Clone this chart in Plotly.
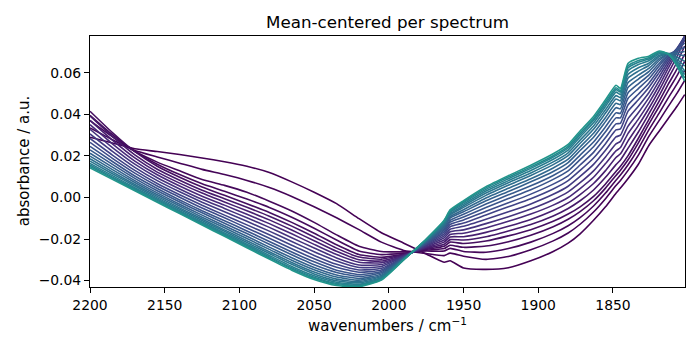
import plotly.graph_objects as go
from plotly.colors import sample_colorscale

# wavenumber grid (cm-1), read at points along the x axis
wavenumbers = [2200, 2185, 2170, 2155, 2140, 2125, 2110, 2095, 2080, 2065, 2050, 2035, 2020, 2005,
               1990, 1975, 1963, 1959, 1950, 1935, 1920, 1905, 1890, 1880, 1872, 1863, 1855, 1848,
               1845, 1840, 1833, 1826, 1819, 1813, 1807, 1802]

# acquisition index of each drawn spectrum (sets its colour)
spectrum_index = [0, 1, 2, 3, 4, 7, 9, 12, 15, 18, 21, 24, 27, 29, 32, 35, 38, 41, 44, 46, 49, 54]

s00 = [.0290, .0262, .0234, .0221, .0207, .0190, .0172, .0150, .0120, .0075, .0025, -.0030, -.0102, -.0170,
       -.0220, -.0272, -.0312, -.0305, -.0340, -.0346, -.0338, -.0305, -.0260, -.0220, -.0175, -.0110, -.0045, .0020,
       .0045, .0090, .0160, .0250, .0320, .0380, .0440, .0495]
s01 = [.0335, .0278, .0226, .0195, .0165, .0135, .0110, .0082, .0048, .0005, -.0045, -.0098, -.0155, -.0215,
       -.0255, -.0270, -.0280, -.0268, -.0283, -.0298, -.0284, -.0252, -.0209, -.0171, -.0129, -.0070, -.0006, .0057,
       .0082, .0129, .0204, .0294, .0371, .0438, .0503, .0563]
s02 = [.0370, .0292, .0222, .0170, .0128, .0086, .0058, .0025, -.0018, -.0065, -.0120, -.0180, -.0235, -.0260,
       -.0262, -.0258, -.0258, -.0245, -.0260, -.0264, -.0246, -.0215, -.0173, -.0136, -.0097, -.0041, .0021, .0083,
       .0108, .0156, .0235, .0325, .0407, .0479, .0548, .0612]
s03 = [.0395, .0302, .0222, .0160, .0110, .0066, .0030, -.0008, -.0048, -.0095, -.0148, -.0205, -.0258, -.0275,
       -.0268, -.0254, -.0246, -.0230, -.0240, -.0234, -.0213, -.0182, -.0141, -.0105, -.0068, -.0016, .0045, .0106,
       .0131, .0180, .0263, .0353, .0439, .0515, .0588, .0655]
s04 = [.0415, .0312, .0220, .0150, .0097, .0050, .0010, -.0030, -.0072, -.0120, -.0172, -.0228, -.0275, -.0288,
       -.0273, -.0250, -.0235, -.0215, -.0222, -.0210, -.0185, -.0155, -.0115, -.0080, -.0045, .0005, .0065, .0125,
       .0150, .0200, .0285, .0375, .0465, .0545, .0620, .0690]
s07 = [.0393, .0294, .0205, .0136, .0083, .0035, -.0006, -.0047, -.0090, -.0138, -.0190, -.0244, -.0287, -.0297,
       -.0275, -.0246, -.0225, -.0203, -.0205, -.0189, -.0161, -.0130, -.0089, -.0053, -.0016, .0036, .0097, .0158,
       .0180, .0236, .0315, .0402, .0491, .0574, .0653, .0729]
s09 = [.0371, .0276, .0190, .0122, .0069, .0021, -.0022, -.0064, -.0108, -.0157, -.0208, -.0259, -.0300, -.0306,
       -.0277, -.0242, -.0215, -.0190, -.0189, -.0168, -.0139, -.0106, -.0063, -.0026, .0014, .0067, .0129, .0192,
       .0210, .0271, .0347, .0428, .0517, .0599, .0680, .0759]
s12 = [.0350, .0258, .0175, .0109, .0055, .0006, -.0037, -.0081, -.0126, -.0175, -.0226, -.0275, -.0312, -.0314,
       -.0280, -.0238, -.0205, -.0178, -.0172, -.0147, -.0115, -.0080, -.0037, .0000, .0043, .0097, .0163, .0224,
       .0240, .0307, .0377, .0454, .0540, .0622, .0700, .0775]
s15 = [.0328, .0240, .0160, .0095, .0041, -.0009, -.0053, -.0098, -.0144, -.0194, -.0243, -.0291, -.0325, -.0323,
       -.0282, -.0234, -.0195, -.0165, -.0156, -.0126, -.0093, -.0056, -.0011, .0027, .0071, .0128, .0195, .0258,
       .0270, .0342, .0408, .0479, .0562, .0639, .0711, .0777]
s18 = [.0306, .0222, .0145, .0081, .0027, -.0023, -.0069, -.0115, -.0162, -.0212, -.0261, -.0306, -.0337, -.0332,
       -.0284, -.0230, -.0185, -.0153, -.0139, -.0105, -.0069, -.0031, .0015, .0054, .0101, .0159, .0227, .0291,
       .0300, .0378, .0439, .0504, .0583, .0653, .0717, .0776]
s21 = [.0284, .0204, .0130, .0067, .0013, -.0038, -.0085, -.0132, -.0180, -.0230, -.0279, -.0322, -.0349, -.0341,
       -.0286, -.0226, -.0175, -.0141, -.0123, -.0084, -.0045, -.0006, .0041, .0081, .0130, .0190, .0259, .0325,
       .0330, .0414, .0470, .0529, .0602, .0665, .0719, .0772]
s24 = [.0265, .0188, .0117, .0055, .0001, -.0051, -.0098, -.0147, -.0196, -.0247, -.0295, -.0336, -.0360, -.0349,
       -.0288, -.0223, -.0166, -.0130, -.0108, -.0066, -.0026, .0016, .0064, .0104, .0156, .0217, .0288, .0354,
       .0357, .0445, .0497, .0550, .0618, .0674, .0717, .0760]
s27 = [.0246, .0173, .0103, .0043, -.0012, -.0064, -.0112, -.0161, -.0212, -.0263, -.0310, -.0350, -.0371, -.0356,
       -.0290, -.0219, -.0158, -.0119, -.0094, -.0048, -.0005, .0037, .0087, .0128, .0182, .0244, .0316, .0383,
       .0383, .0476, .0524, .0571, .0634, .0681, .0713, .0743]
s29 = [.0229, .0159, .0092, .0032, -.0022, -.0074, -.0124, -.0174, -.0225, -.0276, -.0324, -.0361, -.0380, -.0363,
       -.0291, -.0216, -.0150, -.0110, -.0081, -.0032, .0013, .0056, .0106, .0148, .0204, .0267, .0340, .0407,
       .0405, .0503, .0547, .0589, .0646, .0686, .0706, .0724]
s32 = [.0213, .0146, .0081, .0022, -.0033, -.0085, -.0136, -.0187, -.0239, -.0290, -.0337, -.0373, -.0390, -.0369,
       -.0293, -.0213, -.0143, -.0100, -.0069, -.0016, .0029, .0075, .0125, .0168, .0226, .0290, .0365, .0432,
       .0427, .0529, .0570, .0606, .0659, .0690, .0697, .0702]
s35 = [.0199, .0134, .0072, .0013, -.0041, -.0095, -.0146, -.0198, -.0250, -.0302, -.0348, -.0383, -.0398, -.0375,
       -.0294, -.0211, -.0136, -.0093, -.0059, -.0003, .0044, .0090, .0142, .0184, .0243, .0309, .0385, .0453,
       .0447, .0552, .0589, .0621, .0668, .0692, .0689, .0681]
s38 = [.0186, .0123, .0062, .0005, -.0050, -.0104, -.0156, -.0208, -.0261, -.0313, -.0359, -.0393, -.0405, -.0380,
       -.0296, -.0208, -.0130, -.0085, -.0048, .0010, .0059, .0106, .0158, .0201, .0261, .0328, .0406, .0474,
       .0465, .0574, .0608, .0635, .0678, .0693, .0676, .0655]
s41 = [.0175, .0114, .0055, -.0002, -.0057, -.0111, -.0163, -.0217, -.0270, -.0322, -.0368, -.0401, -.0411, -.0385,
       -.0297, -.0206, -.0125, -.0079, -.0040, .0021, .0071, .0118, .0171, .0215, .0276, .0344, .0422, .0490,
       .0480, .0592, .0624, .0646, .0684, .0692, .0665, .0632]
s44 = [.0164, .0105, .0047, -.0009, -.0064, -.0118, -.0171, -.0225, -.0279, -.0332, -.0377, -.0408, -.0418, -.0389,
       -.0298, -.0204, -.0120, -.0072, -.0032, .0031, .0081, .0130, .0184, .0228, .0291, .0359, .0438, .0507,
       .0495, .0609, .0640, .0658, .0692, .0692, .0654, .0609]
s46 = [.0156, .0098, .0041, -.0014, -.0069, -.0124, -.0177, -.0231, -.0286, -.0339, -.0384, -.0414, -.0422, -.0393,
       -.0299, -.0203, -.0116, -.0068, -.0025, .0039, .0090, .0140, .0194, .0238, .0302, .0371, .0449, .0519,
       .0507, .0623, .0651, .0666, .0696, .0691, .0645, .0591]
s49 = [.0149, .0093, .0037, -.0019, -.0074, -.0128, -.0182, -.0237, -.0291, -.0344, -.0389, -.0419, -.0426, -.0395,
       -.0299, -.0201, -.0113, -.0064, -.0020, .0046, .0098, .0147, .0201, .0246, .0310, .0379, .0459, .0528,
       .0514, .0633, .0659, .0672, .0700, .0690, .0637, .0575]
s54 = [.0142, .0087, .0032, -.0023, -.0078, -.0133, -.0187, -.0242, -.0297, -.0350, -.0395, -.0424, -.0430, -.0398,
       -.0300, -.0200, -.0110, -.0060, -.0015, .0052, .0105, .0155, .0210, .0255, .0320, .0390, .0470, .0540,
       .0525, .0645, .0670, .0680, .0705, .0690, .0630, .0560]

spectra = [s00, s01, s02, s03, s04, s07, s09, s12, s15, s18, s21, s24, s27, s29, s32, s35,
           s38, s41, s44, s46, s49, s54]

x_ticks = [2200, 2150, 2100, 2050, 2000, 1950, 1900, 1850]
y_ticks = [-0.04, -0.02, 0.0, 0.02, 0.04, 0.06]
y_ticktext = ["\u22120.04", "\u22120.02", "0.00", "0.02", "0.04", "0.06"]

FONT = "DejaVu Sans"
CMAX = 0.52
colors = sample_colorscale("Viridis", [i / 54 * CMAX for i in spectrum_index])

fig = go.Figure()
for s, c in zip(spectra, colors):
    fig.add_trace(go.Scatter(
        x=wavenumbers, y=s, mode="lines",
        line=dict(color=c, width=1.6, shape="spline", smoothing=0.5),
        showlegend=False, hoverinfo="skip"))

axis_common = dict(
    showgrid=False, zeroline=False, showline=True, linecolor="black", linewidth=1,
    mirror=True, ticks="outside", ticklen=5, tickwidth=1, tickcolor="black",
    tickfont=dict(family=FONT, size=13.9, color="black"))

fig.update_layout(
    width=700, height=350,
    margin=dict(l=90, r=15, t=36, b=63),
    paper_bgcolor="white", plot_bgcolor="white",
    font=dict(family=FONT, color="black"),
    title=dict(text="Mean-centered per spectrum", x=0.5, xref="paper", xanchor="center",
               y=1 - 22 / 350, yref="container", yanchor="middle",
               font=dict(family=FONT, size=16.7, color="black")),
    xaxis=dict(range=[2200, 1801.8], tickvals=x_ticks, **axis_common),
    yaxis=dict(range=[-0.0431, 0.0777], tickvals=y_ticks, ticktext=y_ticktext, **axis_common),
    annotations=[
        dict(text="wavenumbers / cm<sup>\u22121</sup>", xref="paper", yref="paper",
             x=0.5, y=-0.152, xanchor="center", yanchor="middle", showarrow=False,
             font=dict(family=FONT, size=15, color="black")),
        dict(text="absorbance / a.u.", xref="paper", yref="paper",
             x=-0.1115, y=0.5, xanchor="center", yanchor="middle", textangle=-90,
             showarrow=False, font=dict(family=FONT, size=15, color="black")),
    ],
)

fig.write_html("out.html", config={"displayModeBar": False})
